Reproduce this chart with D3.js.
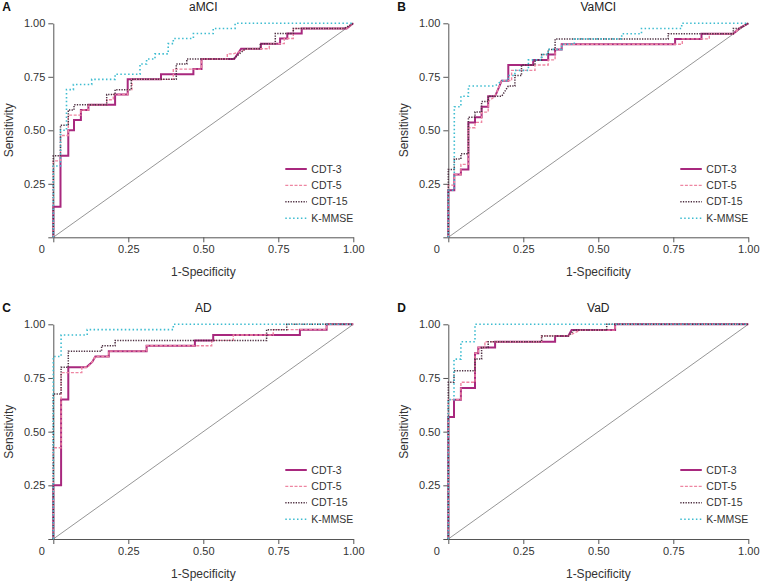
<!DOCTYPE html>
<html><head><meta charset="utf-8">
<script src="https://cdn.jsdelivr.net/npm/d3@7"></script>
<style>body{margin:0;background:#fff}</style>
</head><body><svg id="c" width="761" height="581"></svg>
<script>
const panelLetters = ["A","B","C","D"];
const panelTitles = ["aMCI","VaMCI","AD","VaD"];
const seriesNames = ["CDT-3","CDT-5","CDT-15","K-MMSE"];
const tickValues = [0,0.25,0.5,0.75,1];
const tickLabels = ["","0.25","0.50","0.75","1.00"];
const cornerLabel = "0";
const xTitle = "1-Specificity";
const yTitle = "Sensitivity";

// ROC vertices: [1-specificity, sensitivity]
const aMCI_CDT3 = [[0,0],[0,0.143],[0.024,0.143],[0.024,0.381],[0.05,0.381],[0.05,0.5],[0.069,0.5],[0.069,0.548],[0.092,0.548],[0.092,0.595],[0.117,0.595],[0.117,0.619],[0.206,0.619],[0.206,0.667],[0.248,0.667],[0.248,0.738],[0.359,0.738],[0.359,0.762],[0.467,0.762],[0.467,0.786],[0.494,0.786],[0.494,0.833],[0.603,0.833],[0.626,0.881],[0.692,0.881],[0.692,0.905],[0.756,0.905],[0.756,0.929],[0.78,0.929],[0.78,0.952],[0.828,0.952],[0.828,0.976],[0.978,0.976],[1,1]];
const aMCI_CDT5 = [[0,0],[0,0.357],[0.024,0.357],[0.024,0.476],[0.05,0.476],[0.05,0.571],[0.092,0.571],[0.092,0.595],[0.117,0.595],[0.117,0.619],[0.178,0.619],[0.178,0.643],[0.2,0.643],[0.2,0.667],[0.248,0.667],[0.248,0.69],[0.262,0.69],[0.262,0.738],[0.4,0.738],[0.4,0.786],[0.494,0.786],[0.494,0.833],[0.58,0.833],[0.58,0.857],[0.6,0.857],[0.65,0.881],[0.72,0.881],[0.72,0.905],[0.77,0.905],[0.77,0.929],[0.8,0.929],[0.8,0.976],[0.978,0.976],[1,1]];
const aMCI_CDT15 = [[0,0],[0,0.381],[0.024,0.381],[0.024,0.524],[0.05,0.524],[0.05,0.595],[0.069,0.595],[0.069,0.619],[0.178,0.619],[0.178,0.667],[0.206,0.667],[0.206,0.69],[0.26,0.69],[0.26,0.738],[0.41,0.738],[0.41,0.81],[0.445,0.81],[0.445,0.833],[0.6,0.833],[0.64,0.881],[0.69,0.881],[0.69,0.905],[0.74,0.905],[0.74,0.952],[0.8,0.952],[0.8,0.976],[0.97,0.976],[1,1]];
const aMCI_KMMSE = [[0,0],[0,0.333],[0.024,0.333],[0.024,0.5],[0.044,0.5],[0.044,0.69],[0.067,0.69],[0.067,0.714],[0.128,0.714],[0.128,0.738],[0.206,0.738],[0.206,0.762],[0.289,0.762],[0.289,0.81],[0.311,0.81],[0.311,0.833],[0.339,0.833],[0.339,0.857],[0.383,0.857],[0.383,0.905],[0.4,0.905],[0.4,0.929],[0.467,0.929],[0.467,0.952],[0.533,0.952],[0.533,0.976],[0.606,0.976],[0.606,1],[1,1]];

const VaMCI_CDT3 = [[0,0],[0,0.22],[0.02,0.22],[0.02,0.293],[0.042,0.293],[0.042,0.317],[0.067,0.317],[0.067,0.537],[0.089,0.537],[0.089,0.561],[0.111,0.561],[0.111,0.61],[0.133,0.61],[0.133,0.659],[0.156,0.659],[0.178,0.732],[0.2,0.732],[0.2,0.805],[0.283,0.805],[0.283,0.829],[0.333,0.829],[0.333,0.854],[0.356,0.854],[0.356,0.878],[0.378,0.878],[0.378,0.902],[0.756,0.902],[0.756,0.927],[0.844,0.927],[0.844,0.951],[0.95,0.951],[0.97,0.976],[1,1]];
const VaMCI_CDT5 = [[0,0],[0,0.244],[0.02,0.244],[0.02,0.293],[0.042,0.293],[0.042,0.341],[0.067,0.341],[0.067,0.512],[0.089,0.512],[0.089,0.537],[0.111,0.537],[0.111,0.585],[0.133,0.585],[0.133,0.634],[0.156,0.659],[0.178,0.732],[0.211,0.732],[0.211,0.78],[0.289,0.78],[0.289,0.805],[0.333,0.805],[0.333,0.829],[0.356,0.829],[0.356,0.878],[0.378,0.878],[0.378,0.902],[0.78,0.902],[0.78,0.927],[0.87,0.927],[0.87,0.951],[0.95,0.951],[0.97,0.976],[1,1]];
const VaMCI_CDT15 = [[0,0],[0,0.317],[0.02,0.317],[0.02,0.366],[0.042,0.366],[0.042,0.39],[0.067,0.39],[0.067,0.561],[0.089,0.561],[0.089,0.585],[0.111,0.585],[0.111,0.634],[0.133,0.634],[0.133,0.659],[0.178,0.659],[0.2,0.707],[0.222,0.707],[0.222,0.756],[0.244,0.756],[0.244,0.805],[0.289,0.805],[0.289,0.829],[0.311,0.829],[0.311,0.854],[0.333,0.854],[0.333,0.878],[0.356,0.878],[0.356,0.927],[0.733,0.927],[0.733,0.951],[0.95,0.951],[0.95,0.976],[0.97,0.976],[1,1]];
const VaMCI_KMMSE = [[0,0],[0,0.22],[0.02,0.22],[0.02,0.61],[0.042,0.61],[0.042,0.659],[0.067,0.659],[0.067,0.707],[0.156,0.707],[0.178,0.732],[0.2,0.732],[0.2,0.756],[0.222,0.756],[0.222,0.78],[0.267,0.78],[0.267,0.829],[0.311,0.829],[0.311,0.854],[0.333,0.854],[0.333,0.878],[0.378,0.878],[0.378,0.902],[0.42,0.902],[0.42,0.927],[0.578,0.927],[0.578,0.951],[0.644,0.951],[0.644,0.976],[0.778,0.976],[0.778,1],[1,1]];

const AD_CDT3 = [[0,0],[0,0.25],[0.026,0.25],[0.026,0.65],[0.05,0.65],[0.05,0.8],[0.11,0.8],[0.13,0.825],[0.14,0.85],[0.185,0.85],[0.185,0.875],[0.311,0.875],[0.311,0.9],[0.472,0.9],[0.472,0.925],[0.533,0.925],[0.533,0.95],[0.822,0.95],[0.822,0.975],[0.911,0.975],[0.911,1],[1,1]];
const AD_CDT5 = [[0,0],[0,0.425],[0.026,0.425],[0.026,0.775],[0.095,0.775],[0.095,0.8],[0.115,0.8],[0.13,0.825],[0.14,0.85],[0.185,0.85],[0.185,0.875],[0.311,0.875],[0.311,0.9],[0.528,0.9],[0.528,0.925],[0.6,0.925],[0.6,0.95],[0.733,0.95],[0.733,0.975],[0.911,0.975],[0.911,1],[1,1]];
const AD_CDT15 = [[0,0],[0,0.675],[0.026,0.675],[0.026,0.8],[0.05,0.8],[0.05,0.875],[0.161,0.875],[0.161,0.9],[0.206,0.9],[0.206,0.925],[0.711,0.925],[0.711,0.975],[0.778,0.975],[0.778,1],[1,1]];
const AD_KMMSE = [[0,0],[0,0.85],[0.026,0.85],[0.026,0.95],[0.113,0.95],[0.113,0.975],[0.4,0.975],[0.4,1],[1,1]];

const VaD_CDT3 = [[0,0],[0,0.568],[0.019,0.568],[0.019,0.649],[0.042,0.649],[0.042,0.703],[0.089,0.703],[0.089,0.865],[0.1,0.865],[0.1,0.892],[0.156,0.892],[0.156,0.919],[0.356,0.919],[0.356,0.946],[0.4,0.946],[0.411,0.973],[0.556,0.973],[0.556,1],[1,1]];
const VaD_CDT5 = [[0,0],[0,0.649],[0.042,0.649],[0.042,0.73],[0.089,0.73],[0.089,0.865],[0.1,0.865],[0.1,0.892],[0.122,0.892],[0.122,0.919],[0.311,0.919],[0.311,0.946],[0.4,0.946],[0.44,0.973],[0.556,0.973],[0.556,1],[1,1]];
const VaD_CDT15 = [[0,0],[0,0.73],[0.019,0.73],[0.019,0.784],[0.089,0.784],[0.089,0.838],[0.111,0.838],[0.111,0.892],[0.133,0.892],[0.133,0.919],[0.311,0.919],[0.311,0.946],[0.4,0.946],[0.42,0.973],[0.528,0.973],[0.528,1],[1,1]];
const VaD_KMMSE = [[0,0],[0,0.649],[0.019,0.649],[0.019,0.838],[0.042,0.838],[0.042,0.919],[0.089,0.919],[0.089,1],[1,1]];

const panelSeries = [
  [aMCI_CDT3, aMCI_CDT5, aMCI_CDT15, aMCI_KMMSE],
  [VaMCI_CDT3, VaMCI_CDT5, VaMCI_CDT15, VaMCI_KMMSE],
  [AD_CDT3, AD_CDT5, AD_CDT15, AD_KMMSE],
  [VaD_CDT3, VaD_CDT5, VaD_CDT15, VaD_KMMSE]
];

// styles
const colors = ["#a8287e", "#ee86a2", "#4e3042", "#3dbcd0"];
const widths = [2, 1.4, 1.5, 1.6];
const dashes = [null, "3,1.6", "1.3,1.3", "1.5,2.4"];
const drawOrder = [0, 1, 2, 3];
const FONT = "'Liberation Sans', Arial, Helvetica, sans-serif";
const LFONT = "'Liberation Sans Narrow', 'Arial Narrow', 'Liberation Sans', Arial, sans-serif";
const TXT = "#333";
const AX = "#555";

const layout = [
  {x0: 53.3, yTop: 23.3, yBot: 237.3},
  {x0: 448.3, yTop: 23.3, yBot: 237.3},
  {x0: 53.3, yTop: 324.3, yBot: 539},
  {x0: 448.3, yTop: 324.3, yBot: 539}
];
const W = 300;

const svg = d3.select("#c");
svg.append("rect").attr("width", 761).attr("height", 581).attr("fill", "#fff");

layout.forEach((L, p) => {
  const x = d3.scaleLinear().domain([0, 1]).range([L.x0, L.x0 + W]);
  const y = d3.scaleLinear().domain([0, 1]).range([L.yBot, L.yTop]);
  const g = svg.append("g");

  // axes
  const fmt = (d) => tickLabels[tickValues.indexOf(d)];
  const xa = g.append("g").attr("transform", `translate(0,${L.yBot})`)
    .call(d3.axisBottom(x).tickValues(tickValues).tickFormat(fmt).tickSize(5).tickSizeOuter(0));
  const ya = g.append("g").attr("transform", `translate(${L.x0},0)`)
    .call(d3.axisLeft(y).tickValues(tickValues).tickFormat(fmt).tickSize(5).tickSizeOuter(0));
  [xa, ya].forEach(a => {
    a.selectAll("path,line").attr("stroke", AX).attr("stroke-width", 1);
    a.selectAll("text").attr("fill", TXT).style("font-family", FONT).style("font-size", "11px");
  });
  g.append("text").attr("x", L.x0 - 11.6).attr("y", L.yBot + 8).attr("dy", "0.71em")
    .attr("text-anchor", "middle").attr("fill", TXT).style("font-family", FONT).style("font-size", "11px")
    .text(cornerLabel);

  // titles
  g.append("text").attr("x", L.x0 + W / 2).attr("y", L.yBot + 39).attr("text-anchor", "middle")
    .attr("fill", TXT).style("font-family", FONT).style("font-size", "12px").text(xTitle);
  g.append("text").attr("transform", `translate(${L.x0 - 40},${(L.yTop + L.yBot) / 2}) rotate(-90)`)
    .attr("text-anchor", "middle").attr("fill", TXT).style("font-family", FONT).style("font-size", "12px").text(yTitle);
  g.append("text").attr("x", L.x0 + W / 2).attr("y", L.yTop - 12).attr("text-anchor", "middle")
    .attr("fill", "#222").style("font-family", FONT).style("font-size", "12px").text(panelTitles[p]);
  g.append("text").attr("x", L.x0 - 51).attr("y", L.yTop - 12).attr("fill", "#111")
    .style("font-family", FONT).style("font-size", "12px").style("font-weight", "bold").text(panelLetters[p]);

  // reference diagonal
  g.append("line").attr("x1", x(0)).attr("y1", y(0)).attr("x2", x(1)).attr("y2", y(1))
    .attr("stroke", "#8a8a8a").attr("stroke-width", 0.9);

  const line = d3.line().x(d => x(d[0])).y(d => y(d[1]));
  drawOrder.forEach(i => {
    g.append("path").datum(panelSeries[p][i]).attr("d", line).attr("fill", "none")
      .attr("stroke", colors[i]).attr("stroke-width", widths[i])
      .attr("stroke-dasharray", dashes[i]);
  });

  // legend
  seriesNames.forEach((name, i) => {
    const ly = L.yTop + 145.7 + 16.4 * i;
    g.append("line").attr("x1", L.x0 + 232).attr("x2", L.x0 + 253.5).attr("y1", ly).attr("y2", ly)
      .attr("stroke", colors[i]).attr("stroke-width", widths[i]).attr("stroke-dasharray", dashes[i]);
    g.append("text").attr("x", L.x0 + 258).attr("y", ly).attr("dy", "0.35em").attr("fill", TXT)
      .style("font-family", LFONT).style("font-size", "10.5px").text(name);
  });
});
</script>
</body></html>
